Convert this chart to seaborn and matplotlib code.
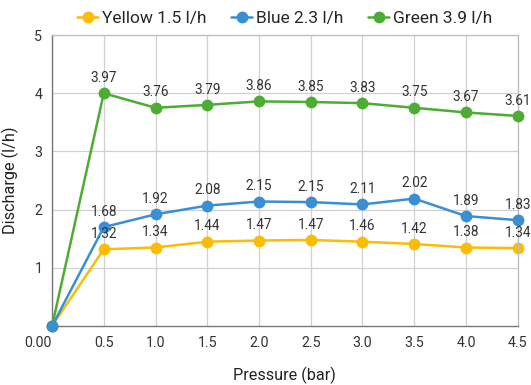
import pandas as pd
import matplotlib
matplotlib.use('Agg')
import matplotlib.pyplot as plt
import seaborn as sns

pressure = [0.0, 0.5, 1.0, 1.5, 2.0, 2.5, 3.0, 3.5, 4.0, 4.5]
x_labels = ['0.00', '0.5', '1.0', '1.5', '2.0', '2.5', '3.0', '3.5', '4.0', '4.5']

yellow = [0, 1.32, 1.35, 1.45, 1.47, 1.48, 1.45, 1.41, 1.35, 1.34]
blue = [0, 1.70, 1.92, 2.07, 2.14, 2.13, 2.09, 2.19, 1.89, 1.82]
green = [0, 4.00, 3.75, 3.80, 3.86, 3.85, 3.83, 3.75, 3.67, 3.61]

yellow_labels = ['', '1.32', '1.34', '1.44', '1.47', '1.47', '1.46', '1.42', '1.38', '1.34']
blue_labels = ['', '1.68', '1.92', '2.08', '2.15', '2.15', '2.11', '2.02', '1.89', '1.83']
green_labels = ['', '3.97', '3.76', '3.79', '3.86', '3.85', '3.83', '3.75', '3.67', '3.61']

series = [
    ('Yellow 1.5 l/h', yellow, yellow_labels, '#FBBC04', 2),
    ('Blue 2.3 l/h', blue, blue_labels, '#3A8ED4', 4),
    ('Green 3.9 l/h', green, green_labels, '#4DAC34', 3),
]

sns.set_style('white')
plt.rcParams['font.family'] = ['Roboto', 'DejaVu Sans']

fig = plt.figure(figsize=(5.31, 3.85), dpi=100)
ax = fig.add_axes([0.098, 0.153, 0.877, 0.756])

for name, vals, labs, col, z in series:
    df = pd.DataFrame({'pressure': pressure, 'discharge': vals})
    sns.lineplot(data=df, x='pressure', y='discharge', ax=ax, color=col,
                 marker='o', markersize=8.5, markeredgewidth=0, linewidth=1.8,
                 label=name)
    ax.lines[-1].set_zorder(z)
    ax.lines[-1].set_clip_on(False)
    for xv, yv, t in zip(pressure, vals, labs):
        if t:
            ax.annotate(t, (xv, yv), xytext=(0, 6), textcoords='offset points',
                        ha='center', va='bottom', fontsize=9.8, color='#333333',
                        zorder=5)

ax.set_xlim(0, 4.5)
ax.set_ylim(0, 5)
ax.set_xticks(pressure)
ax.set_xticklabels(x_labels)
ax.get_xticklabels()[0].set_horizontalalignment('right')
ax.set_yticks([1, 2, 3, 4, 5])
ax.tick_params(axis='both', length=0, labelsize=10.2, labelcolor='#333333', pad=7)
ax.grid(True, color='#d0d0d0', linewidth=0.9)
ax.set_axisbelow(True)
for s in ['top', 'right']:
    ax.spines[s].set_color('#bdbdbd')
    ax.spines[s].set_linewidth(0.9)
for s in ['left', 'bottom']:
    ax.spines[s].set_color('#777777')
    ax.spines[s].set_linewidth(1.0)

ax.set_xlabel('Pressure (bar)', fontsize=11.7, color='#222222', labelpad=12)
ax.set_ylabel('Discharge (l/h)', fontsize=11.7, color='#222222', labelpad=11)

ax.legend(loc='lower center', bbox_to_anchor=(0.5, 1.0), ncol=3, frameon=False,
          fontsize=12.5, handlelength=1.2, columnspacing=1.4, handletextpad=0.25,
          borderaxespad=0.1)

fig.savefig('out.png', dpi=100)
